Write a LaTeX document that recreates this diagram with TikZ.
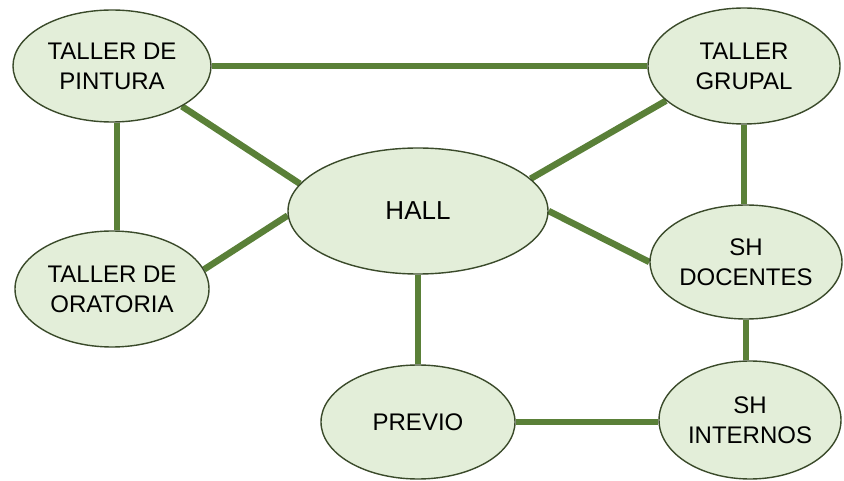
\documentclass[tikz,border=0pt]{standalone}
\usepackage{fontspec}
\setmainfont{Liberation Sans}
\usetikzlibrary{shapes.geometric,backgrounds}
\definecolor{roomfill}{RGB}{227,238,217}
\definecolor{roomline}{RGB}{58,74,42}
\definecolor{linkgreen}{RGB}{90,128,56}
\begin{document}
\begin{tikzpicture}[x=1pt,y=-1pt,
    room/.style={ellipse,draw=roomline,line width=1.4pt,fill=roomfill,inner sep=0pt,
      align=center,font=\fontsize{24}{30}\selectfont},
    link/.style={draw=linkgreen,line width=6.5pt}]
    \useasboundingbox (0,0) rectangle (844,481);

    \node[room,minimum width=198pt,minimum height=112pt] (pint) at (112,66) {TALLER DE\\PINTURA};
    \node[room,minimum width=192pt,minimum height=116pt] (grup) at (744,66) {TALLER\\GRUPAL};
    \node[room,minimum width=260pt,minimum height=126pt,font=\fontsize{26}{30}\selectfont] (hall) at (418,211) {HALL};
    \node[room,minimum width=194pt,minimum height=116pt] (orat) at (112,289) {TALLER DE\\ORATORIA};
    \node[room,minimum width=192pt,minimum height=114pt] (doc) at (746,262) {SH\\DOCENTES};
    \node[room,minimum width=194pt,minimum height=114pt] (prev) at (418,422) {PREVIO};
    \node[room,minimum width=182pt,minimum height=118pt] (int) at (750,420) {SH\\INTERNOS};

    \begin{scope}[on background layer]
    \draw[link] (pint) -- (grup);
    \draw[link] ([xshift=5pt]pint.south) -- ([xshift=5pt]orat.north);
    \draw[link] (pint.-30) -- (hall.167);
    \draw[link] (orat.12) -- (hall.182);
    \draw[link] (hall.16) -- (grup.-156);
    \draw[link] (hall.0) -- (doc.180);
    \draw[link] (hall) -- (prev);
    \draw[link] (grup.south) -- (grup.south |- doc.north);
    \draw[link] (doc.south) -- (doc.south |- int.north);
    \draw[link] (prev) -- (prev -| int.west);
    \end{scope}
  \end{tikzpicture}
\end{document}
